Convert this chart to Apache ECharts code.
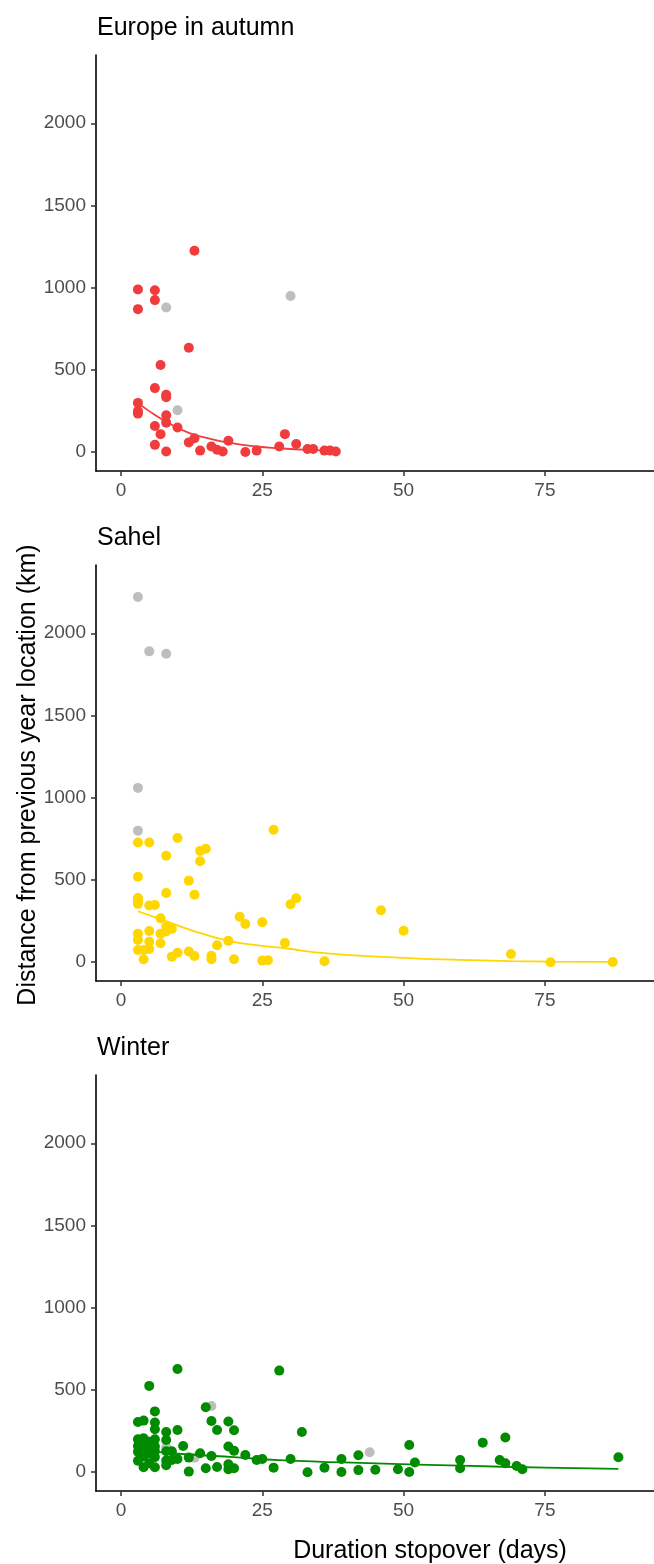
<!DOCTYPE html>
<html>
<head>
<meta charset="utf-8">
<script src="https://cdn.jsdelivr.net/npm/echarts@6/dist/echarts.min.js"></script>
<style>
html, body { margin: 0; padding: 0; background: #fff; }
#chart { width: 654px; height: 1564px; }
</style>
</head>
<body>
<div id="chart"></div>
<script>
var xTicks = [0, 25, 50, 75];
var yTicks = [0, 500, 1000, 1500, 2000];
var panelTitles = ['Europe in autumn', 'Sahel', 'Winter'];
var panelColors = ['#F03C3C', '#FFD700', '#008B00'];
var grayColor = '#BEBEBE';

// Europe in autumn
var europePoints = [[3,990],[3,870],[6,985],[6,925],[13,1225],[12,635],[7,530],[6,390],[8,350],[8,335],
    [3,300],[3,250],[3,235],[8,225],[8,180],[6,160],[10,150],[7,110],[6,45],[8,5],[12,60],[13,85],
    [14,10],[16,35],[17,15],[18,5],[19,70],[22,2],[24,10],[28,35],[29,110],[31,50],[33,20],[34,20],
    [36,10],[37,10],[38,5]];
var europeGray = [[8,880],[30,950],[10,255]];
var europeFit = [[3,300],[5,250],[8,186],[12,118],[16,80],[19,58],[24,35],[28,24],[33,14],[38,8]];

// Sahel
var sahelPoints = [[3,728],[5,728],[10,755],[8,647],[14,677],[15,690],[14,614],[3,520],[12,496],[8,421],
    [13,411],[3,390],[3,375],[3,355],[5,345],[6,348],[7,268],[8,217],[9,203],[8,187],[5,190],[7,174],
    [3,174],[3,136],[5,125],[7,115],[3,75],[4,75],[5,80],[4,18],[9,34],[10,58],[12,65],[13,38],[16,40],
    [16,18],[17,103],[19,130],[20,18],[21,277],[22,233],[25,243],[25,10],[26,12],[29,117],[30,353],
    [31,389],[36,6],[27,805],[46,316],[50,192],[69,50],[76,0],[87,2]];
var sahelGray = [[3,2220],[5,1890],[8,1875],[3,1060],[3,800]];
var sahelFit = [[3,310],[8,250],[12,200],[19,130],[25,100],[29,85],[36,55],[50,26],[60,14],[69,7],[76,4],[87,2]];

// Winter
var winterPoints = [[3,306],[4,314],[3,200],[4,207],[5,186],[6,201],[3,160],[4,156],[5,165],[3,125],
    [5,115],[4,95],[3,70],[4,30],[5,55],[6,302],[6,261],[6,156],[6,128],[6,92],[6,30],[6,370],[5,525],
    [8,245],[8,196],[8,128],[8,71],[8,43],[9,128],[9,75],[10,628],[10,257],[10,81],[11,160],[12,89],
    [12,4],[14,115],[15,395],[15,24],[16,312],[16,99],[17,257],[17,32],[19,308],[19,156],[19,49],[19,18],
    [20,255],[20,130],[20,24],[22,105],[24,75],[25,80],[27,28],[28,618],[30,80],[32,245],[33,0],[36,28],
    [39,81],[39,2],[42,103],[42,13],[45,15],[49,18],[51,166],[51,2],[52,59],[60,75],[60,24],[64,180],
    [67,75],[68,211],[68,55],[70,38],[71,18],[88,91]];
var winterGray = [[16,403],[8,152],[13,88],[44,122]];
var winterFit = [[3,135],[12,108],[20,92],[28,74],[45,54],[60,40],[75,28],[88,20]];

var allPoints = [europePoints, sahelPoints, winterPoints];
var allGray = [europeGray, sahelGray, winterGray];
var allFits = [europeFit, sahelFit, winterFit];

var font = 'Liberation Sans, Arial, sans-serif';
var panelTop = [55, 565, 1075];
var grids = [], xAxes = [], yAxes = [], series = [], graphics = [];

for (var i = 0; i < 3; i++) {
    grids.push({left: 96, right: 0, top: panelTop[i], height: 416});
    xAxes.push({
        gridIndex: i, type: 'value', min: -4.42, max: 94.3,
        axisLine: {show: true, onZero: false, lineStyle: {color: '#000', width: 1.6}},
        axisTick: {show: true, length: 5, customValues: xTicks, lineStyle: {color: '#333', width: 1.5}},
        axisLabel: {customValues: xTicks, color: '#4d4d4d', fontSize: 19, fontFamily: font, margin: 10},
        splitLine: {show: false}
    });
    yAxes.push({
        gridIndex: i, type: 'value', min: -114, max: 2415,
        axisLine: {show: true, onZero: false, lineStyle: {color: '#000', width: 1.6}},
        axisTick: {show: true, length: 5, customValues: yTicks, lineStyle: {color: '#333', width: 1.5}},
        axisLabel: {customValues: yTicks, color: '#4d4d4d', fontSize: 19, fontFamily: font, margin: 10,
            formatter: function(v){ return String(v); }},
        splitLine: {show: false}
    });
    series.push({
        type: 'scatter', xAxisIndex: i, yAxisIndex: i, data: allGray[i],
        symbolSize: 10, itemStyle: {color: grayColor, opacity: 1}, z: 2
    });
    series.push({
        type: 'scatter', xAxisIndex: i, yAxisIndex: i, data: allPoints[i],
        symbolSize: 10, itemStyle: {color: panelColors[i], opacity: 1}, z: 3
    });
    series.push({
        type: 'line', xAxisIndex: i, yAxisIndex: i, data: allFits[i],
        smooth: true, showSymbol: false, lineStyle: {color: panelColors[i], width: 1.8}, z: 4
    });
    graphics.push({
        type: 'text', x: 97, y: 28 + i * 510,
        style: {text: panelTitles[i], fill: '#000', font: '25px ' + font, textVerticalAlign: 'middle'}
    });
}

graphics.push({
    type: 'text', x: 28, y: 775, rotation: Math.PI / 2,
    style: {text: 'Distance from previous year location (km)', fill: '#000', font: '25px ' + font,
        textAlign: 'center', textVerticalAlign: 'middle'}
});
graphics.push({
    type: 'text', x: 430, y: 1551,
    style: {text: 'Duration stopover (days)', fill: '#000', font: '25px ' + font,
        textAlign: 'center', textVerticalAlign: 'middle'}
});

echarts.init(document.getElementById('chart')).setOption({
    animation: false,
    backgroundColor: '#fff',
    grid: grids,
    xAxis: xAxes,
    yAxis: yAxes,
    series: series,
    graphic: graphics
});
</script>
</body>
</html>
